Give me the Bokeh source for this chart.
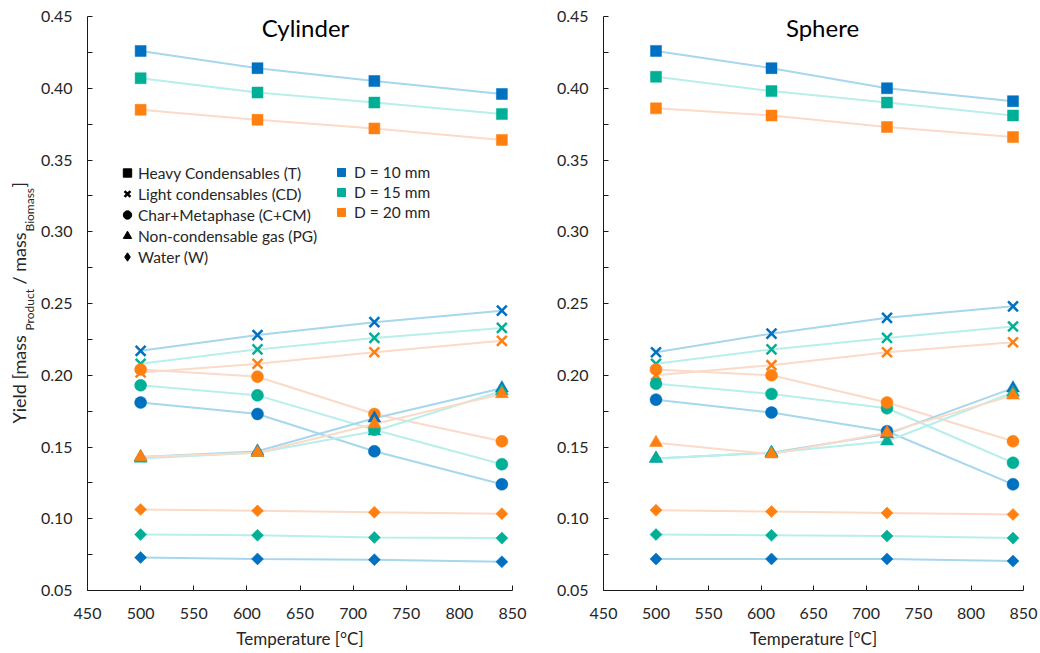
import math
from bokeh.plotting import figure
from bokeh.layouts import row
from bokeh.models import (ColumnDataSource, FixedTicker, Label, Legend, LegendItem,
                          Range1d, PrintfTickFormatter)
from bokeh.embed import file_html
from bokeh.resources import INLINE

# ---------------- data ----------------
temps = [500, 610, 720, 840]
diameters = ["D = 10 mm", "D = 15 mm", "D = 20 mm"]
products = ["Heavy Condensables (T)", "Light condensables (CD)", "Char+Metaphase (C+CM)",
            "Non-condensable gas (PG)", "Water (W)"]
x_ticks = [450, 500, 550, 600, 650, 700, 750, 800, 850]
y_ticks = [0.05, 0.10, 0.15, 0.20, 0.25, 0.30, 0.35, 0.40, 0.45]
y_minor = [0.075, 0.125, 0.175, 0.225, 0.275, 0.325, 0.375, 0.425]

# Cylinder
cyl_T_d10 = [0.426, 0.414, 0.405, 0.396]
cyl_T_d15 = [0.407, 0.397, 0.390, 0.382]
cyl_T_d20 = [0.385, 0.378, 0.372, 0.364]
cyl_CD_d10 = [0.217, 0.228, 0.237, 0.245]
cyl_CD_d15 = [0.208, 0.218, 0.226, 0.233]
cyl_CD_d20 = [0.202, 0.208, 0.216, 0.224]
cyl_C_d10 = [0.181, 0.173, 0.147, 0.124]
cyl_C_d15 = [0.193, 0.186, 0.162, 0.138]
cyl_C_d20 = [0.204, 0.199, 0.173, 0.154]
cyl_PG_d10 = [0.143, 0.147, 0.170, 0.191]
cyl_PG_d15 = [0.142, 0.146, 0.161, 0.189]
cyl_PG_d20 = [0.143, 0.146, 0.166, 0.187]
cyl_W_d10 = [0.073, 0.072, 0.0715, 0.070]
cyl_W_d15 = [0.089, 0.0885, 0.087, 0.0865]
cyl_W_d20 = [0.1065, 0.1055, 0.1045, 0.1035]

# Sphere
sph_T_d10 = [0.426, 0.414, 0.400, 0.391]
sph_T_d15 = [0.408, 0.398, 0.390, 0.381]
sph_T_d20 = [0.386, 0.381, 0.373, 0.366]
sph_CD_d10 = [0.216, 0.229, 0.240, 0.248]
sph_CD_d15 = [0.208, 0.218, 0.226, 0.234]
sph_CD_d20 = [0.200, 0.207, 0.216, 0.223]
sph_C_d10 = [0.183, 0.174, 0.161, 0.124]
sph_C_d15 = [0.194, 0.187, 0.177, 0.139]
sph_C_d20 = [0.204, 0.200, 0.181, 0.154]
sph_PG_d10 = [0.142, 0.146, 0.159, 0.191]
sph_PG_d15 = [0.142, 0.146, 0.154, 0.188]
sph_PG_d20 = [0.153, 0.145, 0.160, 0.186]
sph_W_d10 = [0.072, 0.072, 0.072, 0.0705]
sph_W_d15 = [0.089, 0.0885, 0.088, 0.0865]
sph_W_d20 = [0.106, 0.105, 0.104, 0.103]

cyl_series = [
    [cyl_T_d10, cyl_T_d15, cyl_T_d20],
    [cyl_CD_d10, cyl_CD_d15, cyl_CD_d20],
    [cyl_C_d10, cyl_C_d15, cyl_C_d20],
    [cyl_PG_d10, cyl_PG_d15, cyl_PG_d20],
    [cyl_W_d10, cyl_W_d15, cyl_W_d20],
]
sph_series = [
    [sph_T_d10, sph_T_d15, sph_T_d20],
    [sph_CD_d10, sph_CD_d15, sph_CD_d20],
    [sph_C_d10, sph_C_d15, sph_C_d20],
    [sph_PG_d10, sph_PG_d15, sph_PG_d20],
    [sph_W_d10, sph_W_d15, sph_W_d20],
]

# ---------------- styles ----------------
FONT = "Lato"
TXT = "#262626"
marker_colors = ["#0070C0", "#00B096", "#FF8010"]
line_colors = ["#A6D7EC", "#B8EFEA", "#FBDAC8"]
# marker, size, angle
marker_styles = [("square", 11, 0.0), ("x", 14, 0.0), ("circle", 12, 0.0),
                 ("triangle", 13, 0.0), ("square", 8.5, math.pi / 4)]
legend_markers = ["square", "x", "circle", "triangle", "diamond"]


def draw_marker(p, src, k, color):
    mk, sz, ang = marker_styles[k]
    if mk == "x":
        return p.scatter(x="x", y="y", source=src, marker="x", size=sz,
                         line_color=color, line_width=2.5, fill_color=None)
    return p.scatter(x="x", y="y", source=src, marker=mk, size=sz, angle=ang,
                     fill_color=color, line_color=color, line_width=0.5)


def make_panel(title, series, width, b_left, b_right, title_x, legend=False):
    p = figure(width=width, height=653, x_range=Range1d(450, 850), y_range=Range1d(0.05, 0.45),
               output_backend="svg", toolbar_location=None,
               min_border_left=b_left, min_border_right=b_right,
               min_border_top=16, min_border_bottom=63)
    p.background_fill_color = "white"
    p.border_fill_color = "white"
    p.outline_line_color = None
    p.grid.visible = False

    for k, trio in enumerate(series):
        for d, vals in enumerate(trio):
            src = ColumnDataSource(dict(x=temps, y=vals))
            p.line(x="x", y="y", source=src, line_color=line_colors[d], line_width=2)
    for k, trio in enumerate(series):
        for d, vals in enumerate(trio):
            src = ColumnDataSource(dict(x=temps, y=vals))
            draw_marker(p, src, k, marker_colors[d])

    p.xaxis.ticker = FixedTicker(ticks=x_ticks)
    p.yaxis.ticker = FixedTicker(ticks=y_ticks, minor_ticks=y_minor)
    p.yaxis.formatter = PrintfTickFormatter(format="%.2f")
    for ax in (p.xaxis[0], p.yaxis[0]):
        ax.axis_line_color = "#1a1a1a"
        ax.axis_line_width = 1
        ax.major_tick_line_color = "#1a1a1a"
        ax.minor_tick_line_color = "#1a1a1a"
        ax.major_tick_in = 5
        ax.major_tick_out = 0
        ax.minor_tick_in = 5
        ax.minor_tick_out = 0
        ax.major_label_text_font = FONT
        ax.major_label_text_font_size = "16px"
        ax.major_label_text_color = TXT
    p.xaxis.minor_tick_line_color = None
    p.xaxis.major_label_standoff = 17
    p.yaxis.major_label_standoff = 15
    p.xaxis.axis_label = "Temperature [°C]"
    p.xaxis.axis_label_text_font = FONT
    p.xaxis.axis_label_text_font_size = "17px"
    p.xaxis.axis_label_text_font_style = "normal"
    p.xaxis.axis_label_text_color = TXT
    p.xaxis.axis_label_standoff = 6

    p.add_layout(Label(x=title_x, y=563, x_units="screen", y_units="screen", text=title,
                       text_align="center", text_baseline="middle", text_font=FONT,
                       text_font_size="24px", text_color="black"))

    if legend:
        nan = float("nan")
        shape_items = []
        for k, name in enumerate(products):
            src = ColumnDataSource(dict(x=[nan], y=[nan]))
            mk = legend_markers[k]
            if mk == "x":
                r = p.scatter(x="x", y="y", source=src, marker="x", size=10,
                              line_color="black", line_width=2.5)
            else:
                r = p.scatter(x="x", y="y", source=src, marker=mk, size=10,
                              fill_color="black", line_color="black")
            shape_items.append(LegendItem(label=name, renderers=[r]))
        color_items = []
        for d, name in enumerate(diameters):
            src = ColumnDataSource(dict(x=[nan], y=[nan]))
            r = p.scatter(x="x", y="y", source=src, marker="square", size=11,
                          fill_color=marker_colors[d], line_color=marker_colors[d])
            color_items.append(LegendItem(label=name, renderers=[r]))
        common = dict(orientation="vertical", padding=0, margin=0, border_line_alpha=0,
                      background_fill_alpha=0, label_text_font=FONT,
                      label_text_font_size="15.5px", label_text_color=TXT,
                      label_height=18, spacing=0)
        leg1 = Legend(items=shape_items, location=(29, 323), glyph_width=22, glyph_height=21,
                      label_standoff=0, **common)
        leg2 = Legend(items=color_items, location=(244, 368), glyph_width=20, glyph_height=20,
                      label_standoff=3, **common)
        p.add_layout(leg1)
        p.add_layout(leg2)
    return p


# narrow strip holding the rotated y-axis title with subscripts
# (its frame is aligned with the panels' frames: y measured from the frame bottom)
ylab = figure(width=36, height=653, x_range=Range1d(0, 1), y_range=Range1d(0, 1),
              x_axis_type=None, y_axis_type=None, output_backend="svg",
              toolbar_location=None, min_border=0)
ylab.outline_line_color = None
ylab.grid.visible = False
pieces = [("Yield [mass", 18, 167, "18px"),
          ("Product", 29, 260, "12px"),
          ("/ mass", 18, 306, "18px"),
          ("Biomass", 29, 359, "12px"),
          ("]", 18, 403, "18px")]
for txt, px, py, fs in pieces:
    ylab.add_layout(Label(x=px, y=py, x_units="screen", y_units="screen", text=txt,
                          angle=math.pi / 2, text_align="left",
                          text_baseline="middle", text_font=FONT,
                          text_font_size=fs, text_color=TXT))

p1 = make_panel("Cylinder", cyl_series, 494, 51, 18, 218, legend=True)
p2 = make_panel("Sphere", sph_series, 510, 73, 17, 219)

layout = row(ylab, p1, p2, spacing=0)
open("out.html", "w").write(file_html(layout, INLINE))
